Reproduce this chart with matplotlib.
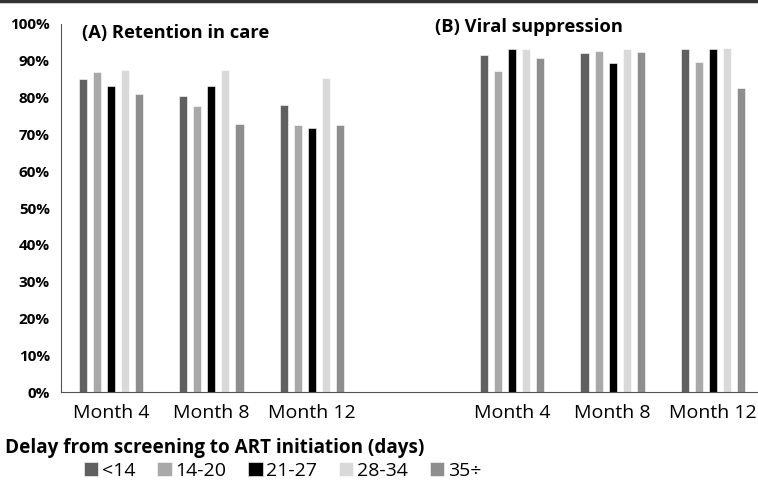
import numpy as np
import matplotlib
matplotlib.use("Agg")
import matplotlib.pyplot as plt
from matplotlib.lines import Line2D

plt.rcParams['font.family'] = ['Open Sans', 'DejaVu Sans']

# categories (slot 4 left empty between the two panels)
months = ["Month 4", "Month 8", "Month 12", "", "Month 4", "Month 8", "Month 12"]
groups = ["<14", "14-20", "21-27", "28-34", "35÷"]
colors = ["#606060", "#a9a9a9", "#000000", "#d9d9d9", "#8e8e8e"]

# (A) retention in care, (B) viral suppression, in %
lt14 = [85.0, 80.5, 78.0, 0, 91.6, 92.0, 93.1]
d14_20 = [86.9, 77.6, 72.5, 0, 87.2, 92.7, 89.8]
d21_27 = [83.2, 83.2, 71.8, 0, 93.1, 89.5, 93.1]
d28_34 = [87.6, 87.6, 85.2, 0, 93.1, 93.1, 93.4]
d35 = [80.9, 72.8, 72.5, 0, 90.8, 92.3, 82.7]
series = [lt14, d14_20, d21_27, d28_34, d35]

fig = plt.figure(figsize=(7.58, 4.8), dpi=100)
ax = fig.add_axes([61/758, 88/480, 702/758, 368/480])

x = np.arange(len(months))
w = 0.08
handles = []
for i, (vals, c, lab) in enumerate(zip(series, colors, groups)):
    b = ax.bar(x + (i - 2) * 0.14, np.array(vals) / 100, width=w, color=c,
               edgecolor="white", linewidth=0.4, label=lab)
    handles.append(b)

ax.set_xlim(-0.5, 6.5)
ax.set_ylim(0, 1.0)
ax.set_yticks(np.arange(0, 1.01, 0.1))
ax.set_yticklabels([f"{int(round(v*100))}%" for v in np.arange(0, 1.01, 0.1)],
                   fontsize=11, fontweight="bold")
ax.set_xticks(x)
ax.set_xticklabels(months, fontsize=14)
ax.tick_params(axis="y", length=0, pad=8)
ax.tick_params(axis="x", length=0, pad=9)
for s in ["top", "right"]:
    ax.spines[s].set_visible(False)
ax.spines["left"].set_color("#555555")
ax.spines["bottom"].set_color("#555555")

fig.text(82/758, 1 - 33/480, "(A) Retention in care", fontsize=13.2, fontweight="bold",
         va="center", ha="left")
fig.text(435/758, 1 - 27/480, "(B) Viral suppression", fontsize=13.2, fontweight="bold",
         va="center", ha="left")

fig.text(5/758, 1 - 448/480, "Delay from screening to ART initiation (days)",
         fontsize=13.6, fontweight="bold", va="center", ha="left")
fig.legend(handles=handles, labels=groups, loc="center left",
           bbox_to_anchor=(74/758, 1 - 471/480), ncol=5, frameon=False,
           fontsize=14, handlelength=0.75, handleheight=0.75, handletextpad=0.2,
           columnspacing=1.1, borderpad=0)

fig.add_artist(Line2D([0, 1], [0.998, 0.998], color="#333333", linewidth=2.5))

plt.savefig("out.png", dpi=100)
plt.close()
